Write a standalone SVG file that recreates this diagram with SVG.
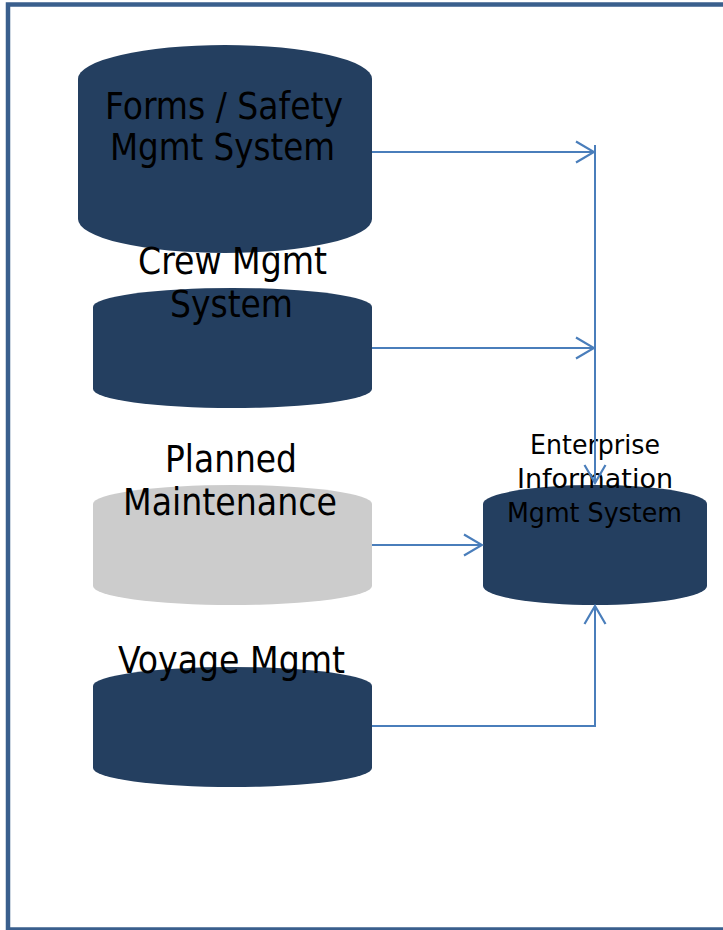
<svg xmlns="http://www.w3.org/2000/svg" width="723" height="930" viewBox="0 0 723 930">
<style>
.navy{fill:#243F60}
.gray{fill:#CCCCCC}
.lbl{font-family:"DejaVu Sans Condensed","DejaVu Sans",Verdana,sans-serif;font-stretch:condensed;font-size:37px;fill:#000;text-anchor:middle}
.lbl2{font-family:"DejaVu Sans Condensed","DejaVu Sans",Verdana,sans-serif;font-stretch:condensed;font-size:26.5px;fill:#000;text-anchor:middle}
.conn{fill:none;stroke:#4A7EBB;stroke-width:2}
</style>
<defs>
<marker id="arr" markerUnits="userSpaceOnUse" markerWidth="22" markerHeight="26" viewBox="0 0 22 26" refX="20" refY="13" orient="auto">
<path d="M2,2.5 L20,13 L2,23.5" fill="none" stroke="#4A7EBB" stroke-width="2.2"/>
</marker>
</defs>
<rect x="0" y="0" width="723" height="930" fill="#FFFFFF"/>
<rect id="frame" x="8" y="4.5" width="730" height="925" fill="none" stroke="#3A5F8D" stroke-width="4.5"/>
<g id="forms">
<path class="navy" d="M78,79 A147,34 0 0 1 372,79 V219 A147,34 0 0 1 78,219 Z"/>
<text class="lbl" x="224" y="118.5" textLength="238" lengthAdjust="spacingAndGlyphs">Forms / Safety</text>
<text class="lbl" x="222.5" y="160" textLength="225" lengthAdjust="spacingAndGlyphs">Mgmt System</text>
</g>
<g id="crew">
<path class="navy" d="M93,307 A139.5,19 0 0 1 372,307 V389 A139.5,19 0 0 1 93,389 Z"/>
<text class="lbl" x="232.5" y="274" textLength="189" lengthAdjust="spacingAndGlyphs">Crew Mgmt</text>
<text class="lbl" x="231.5" y="317" textLength="123" lengthAdjust="spacingAndGlyphs">System</text>
</g>
<g id="planned">
<path class="gray" d="M93,504 A139.5,19 0 0 1 372,504 V586 A139.5,19 0 0 1 93,586 Z"/>
<text class="lbl" x="231" y="472" textLength="132" lengthAdjust="spacingAndGlyphs">Planned</text>
<text class="lbl" x="230" y="515" textLength="214" lengthAdjust="spacingAndGlyphs">Maintenance</text>
</g>
<g id="voyage">
<path class="navy" d="M93,686 A139.5,19 0 0 1 372,686 V768 A139.5,19 0 0 1 93,768 Z"/>
<text class="lbl" x="231.5" y="673" textLength="227" lengthAdjust="spacingAndGlyphs">Voyage Mgmt</text>
</g>
<g id="enterprise">
<path class="navy" d="M483,504 A112,19 0 0 1 707,504 V586 A112,19 0 0 1 483,586 Z"/>
<text class="lbl2" x="595" y="454" textLength="130" lengthAdjust="spacingAndGlyphs">Enterprise</text>
<text class="lbl2" x="595" y="488" textLength="156" lengthAdjust="spacingAndGlyphs">Information</text>
<text class="lbl2" x="594.5" y="522" textLength="175" lengthAdjust="spacingAndGlyphs">Mgmt System</text>
</g>
<g id="connectors">
<path class="conn" d="M372,152 H594" marker-end="url(#arr)"/>
<path class="conn" d="M595,145 V483" marker-end="url(#arr)"/>
<path class="conn" d="M372,348 H594" marker-end="url(#arr)"/>
<path class="conn" d="M372,545 H482" marker-end="url(#arr)"/>
<path class="conn" d="M372,726 H595 V606" marker-end="url(#arr)"/>
</g>
</svg>
